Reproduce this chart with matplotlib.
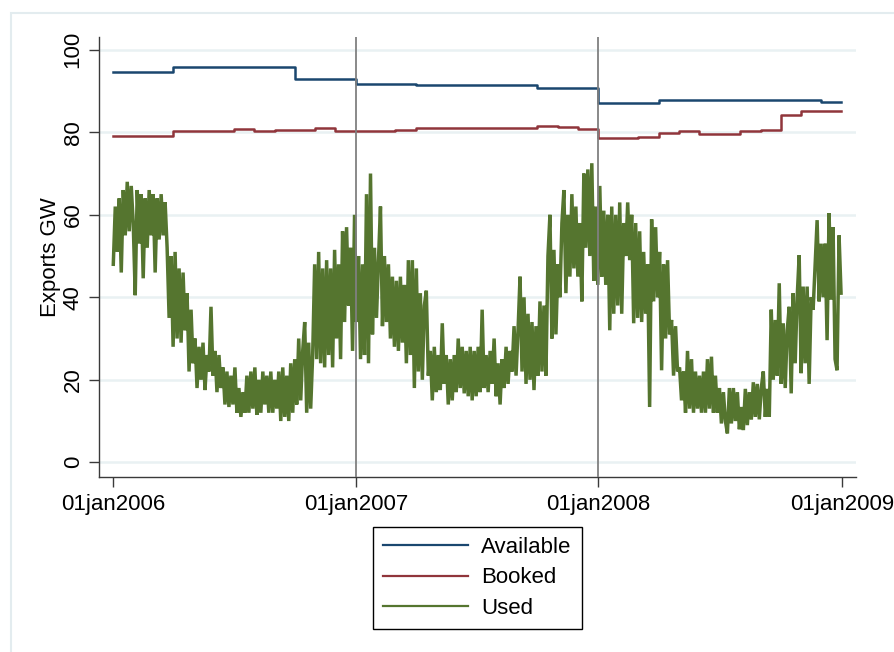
import matplotlib
matplotlib.use('Agg')
import matplotlib.pyplot as plt
import pandas as pd
from matplotlib.patches import Rectangle
from matplotlib.lines import Line2D

plt.rcParams['font.family'] = ['Liberation Sans', 'DejaVu Sans']

# ---------------- data ----------------
series_names = ['Available', 'Booked', 'Used']

available_dates = ['2006-01-01', '2006-04-01', '2006-10-01', '2007-01-01', '2007-04-01',
                   '2007-10-01', '2008-01-01', '2008-04-01', '2008-12-01']
available_values = [94.7, 95.8, 92.9, 91.7, 91.4, 90.7, 87.1, 87.8, 87.45]

booked_dates = ['2006-01-01', '2006-04-01', '2006-07-01', '2006-08-01', '2006-09-01',
                '2006-11-01', '2006-12-01', '2007-03-01', '2007-04-01', '2007-10-01',
                '2007-11-01', '2007-12-01', '2008-01-01', '2008-03-01', '2008-04-01',
                '2008-05-01', '2008-06-01', '2008-08-01', '2008-09-01', '2008-10-01',
                '2008-11-01']
booked_values = [79.05, 80.4, 80.75, 80.4, 80.6, 81.05, 80.3, 80.65, 81.0, 81.6,
                 81.2, 80.8, 78.6, 78.9, 79.8, 80.2, 79.7, 80.2, 80.5, 84.2, 85.2]

series_end_date = '2008-12-31'

# Used exports, sampled every 3 days from 01jan2006
used_start = '2006-01-01'
used_values = [
    48, 62, 51, 64, 46, 66, 55, 68, 56, 67,
    58, 40.5, 66, 53, 65, 44.6, 64, 52, 66, 55,
    65, 46, 64, 54, 65, 55, 63, 52, 35, 50,
    28, 51, 30, 47, 29, 46, 32, 41, 22, 37,
    24, 30, 18, 28, 20, 29, 17.5, 26, 22, 37.7,
    21, 27, 17, 26, 18, 23, 14, 22, 13.4, 21,
    14, 23, 12, 18, 11, 17, 12, 21, 12, 22,
    13, 23, 11.5, 20, 12, 22, 14, 21, 12, 22,
    12, 20, 13, 22, 10, 23, 11, 21, 10, 24,
    12, 25, 14, 30, 15, 27, 34, 12, 29, 13,
    26, 48, 25, 51, 24, 47, 23, 49, 26, 47,
    23, 51.5, 30, 48, 25, 56, 34, 57, 38, 52,
    27, 60, 34, 50, 25, 48, 26, 65, 24, 70,
    31, 52, 35, 49, 62, 33, 50, 34, 48, 30,
    45, 28, 44, 27, 45, 29, 43, 24, 49, 26,
    49, 18, 47, 22, 41, 20, 38, 41.6, 21, 27,
    15, 28, 17, 26, 17.5, 33.7, 19, 26, 14, 25,
    15, 26, 17, 30, 18, 28, 16.7, 27, 16, 28,
    15, 27, 16, 28, 17, 37, 18, 26, 17, 27,
    19, 30, 16, 24, 14, 25, 18, 28, 19, 27,
    22, 33, 21, 32, 45, 22, 40, 19, 36, 20,
    34, 17.5, 33, 21, 39, 22, 38, 21, 50, 60,
    30, 51.5, 31, 48, 40, 58, 66, 41, 60, 45,
    65, 47, 62, 45, 58, 39, 70, 52, 71, 50,
    72.5, 44, 62, 43, 67, 45, 61, 43, 60, 32,
    62, 36, 60, 38, 63, 36, 58, 50, 63, 49,
    60, 33.7, 58, 35, 56, 34, 51, 36, 48, 13.4,
    58.9, 39, 57, 40, 51, 22.3, 48, 30, 49, 31,
    34.5, 21, 33, 22, 23, 15, 22, 12, 27, 13,
    25, 12, 22, 13, 21, 12, 22, 12, 25, 13,
    25.6, 12, 21, 12, 18, 9.4, 17, 10, 7, 18,
    9.4, 18, 10, 17, 8, 13.4, 7.8, 17.8, 9, 17,
    10.4, 19.4, 11, 19, 10.4, 18, 22, 11, 17.8, 11,
    37, 20, 34.5, 21, 43.4, 19, 33.7, 18, 32, 37.7,
    16.7, 41, 24, 40, 50.2, 21.6, 42.6, 24, 42.6, 19,
    40, 37, 48, 58.7, 39, 53, 40, 53, 29.6, 60.4,
    39.4, 57, 25, 22.3, 55, 41,
]

xtick_dates = ['2006-01-01', '2007-01-01', '2008-01-01', '2009-01-01']
xtick_labels = ['01jan2006', '01jan2007', '01jan2008', '01jan2009']
ytick_values = [0, 20, 40, 60, 80, 100]
vline_dates = ['2007-01-01', '2008-01-01']
y_label = 'Exports GW'

# ---------------- style ----------------
NAVY = '#1a476f'
MAROON = '#90353b'
GREEN = '#55752f'
GRID = '#e9f1f3'
AXCOL = '#3a3a3a'

W, H = 894, 652
fig = plt.figure(figsize=(W / 100, H / 100), dpi=100)
fig.patch.set_facecolor('white')

# outer light frame (graph region)
fig.patches.append(Rectangle((11 / W, -0.1), 2, 1.1 - 12.5 / H,
                             transform=fig.transFigure, fill=False,
                             edgecolor='#e3ecef', lw=1.5))

ax = fig.add_axes([99 / W, 1 - 477 / H, (856 - 99) / W, (477 - 37) / H])
ax.set_facecolor('white')

end = pd.Timestamp(series_end_date)
a_x = list(pd.to_datetime(available_dates)) + [end]
a_y = available_values + [available_values[-1]]
b_x = list(pd.to_datetime(booked_dates)) + [end]
b_y = booked_values + [booked_values[-1]]
u_x = pd.date_range(used_start, periods=len(used_values), freq='3D')

ax.step(a_x, a_y, where='post', color=NAVY, lw=1.8, zorder=3)
ax.step(b_x, b_y, where='post', color=MAROON, lw=1.8, zorder=3)
ax.plot(u_x, used_values, color=GREEN, lw=2.5, zorder=2, solid_joinstyle='miter')

for d in vline_dates:
    ax.axvline(pd.Timestamp(d), color='#808080', lw=1.3, zorder=5)

ax.set_xlim(pd.Timestamp(xtick_dates[0]) - pd.Timedelta(days=21.5),
            pd.Timestamp(xtick_dates[-1]) + pd.Timedelta(days=21.5))
ax.set_ylim(-3.57, 103.1)

ax.set_xticks(pd.to_datetime(xtick_dates))
ax.set_xticklabels(xtick_labels, fontsize=16)
ax.set_yticks(ytick_values)
ax.set_yticklabels([str(v) for v in ytick_values], fontsize=16, rotation=90, va='center')

ax.yaxis.grid(True, color=GRID, lw=1.8)
ax.xaxis.grid(False)
ax.set_axisbelow(True)

for s in ['top', 'right']:
    ax.spines[s].set_visible(False)
for s in ['left', 'bottom']:
    ax.spines[s].set_color(AXCOL)
    ax.spines[s].set_linewidth(1.0)

ax.tick_params(axis='x', length=7, width=1, color=AXCOL, pad=5)
ax.tick_params(axis='y', length=7, width=1, color=AXCOL, pad=4)
ax.set_ylabel(y_label, fontsize=16, labelpad=1)

handles = [Line2D([], [], color=c, lw=1.6) for c in (NAVY, MAROON, GREEN)]
leg = fig.legend(handles, series_names, loc='upper center',
                 bbox_to_anchor=(477.5 / W, 1 - 527 / H), fontsize=16,
                 frameon=True, fancybox=False, edgecolor='black', framealpha=1,
                 handlelength=3.8, handletextpad=0.6, labelspacing=0.42,
                 borderpad=0.45, borderaxespad=0)
leg.get_frame().set_linewidth(1.0)

fig.savefig('out.png', dpi=100, facecolor='white')
